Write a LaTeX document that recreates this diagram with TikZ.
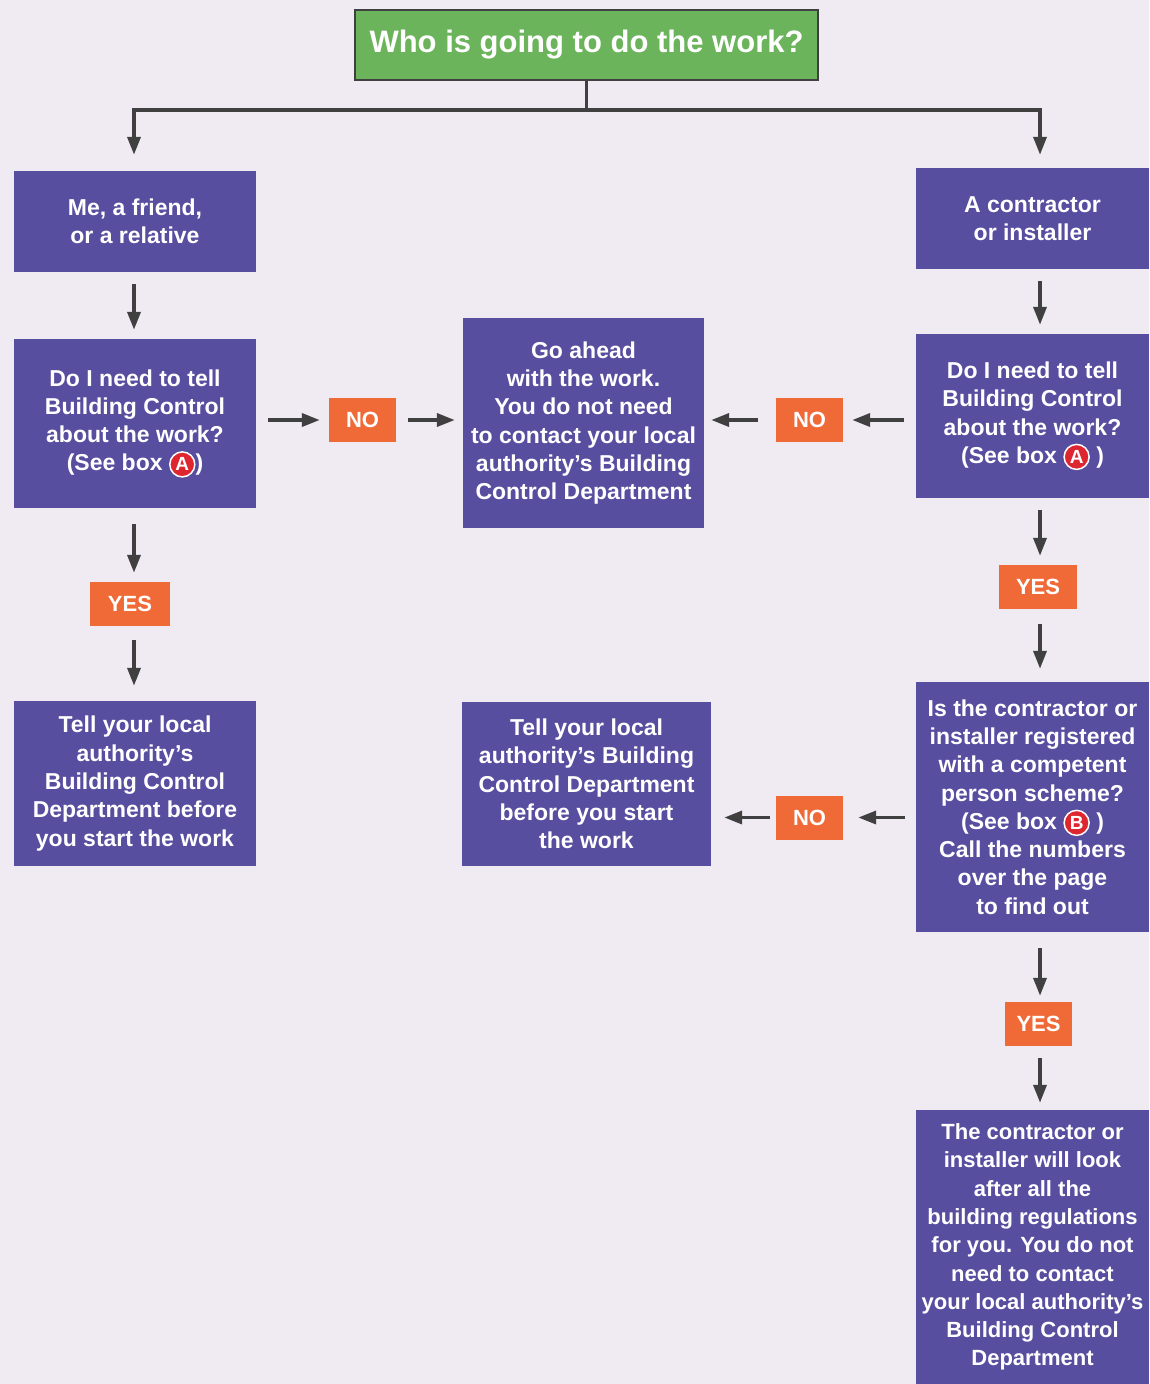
\documentclass[tikz,border=0pt]{standalone}
\usepackage{fontspec}
\setmainfont{Liberation Sans}
\usetikzlibrary{arrows.meta}

\definecolor{paper}{RGB}{240,235,242}
\definecolor{stepblue}{RGB}{88,78,160}
\definecolor{answer}{RGB}{240,106,56}
\definecolor{topgreen}{RGB}{108,180,92}
\definecolor{arrowgray}{RGB}{64,64,64}
\definecolor{letterred}{RGB}{222,38,48}

% lettre entouree (renvoi aux encadres)
\newcommand{\boxletter}[1]{\tikz[baseline=(L.base)]\node[circle,fill=letterred,draw=white,line width=1.5pt,inner sep=0pt,minimum size=25pt,text=white,font=\fontsize{19}{19}\selectfont\bfseries] (L) {#1};}

\begin{document}
\begin{tikzpicture}[x=1pt,y=-1pt,>={Triangle[length=18pt,width=13pt]},
    question/.style={fill=stepblue,text=white,align=center,inner sep=2pt,
      font=\fontsize{23}{28.3}\selectfont\bfseries},
    answerbox/.style={fill=answer,text=white,minimum height=44pt,inner sep=0pt,
      font=\fontsize{22}{22}\selectfont\bfseries},
    flow/.style={->,draw=arrowgray,line width=3.5pt,shorten <=12pt,shorten >=9pt}]
    % Fond
    \fill[paper] (0,0) rectangle (1149,1384);

    % Question de depart
    \node[fill=topgreen,draw=arrowgray,line width=1.5pt,text=white,minimum width=463pt,minimum height=70pt,
      font=\fontsize{31}{31}\selectfont\bfseries] (who) at (586.5,45) {Who is going to do the work?};
    \coordinate (split) at (586.5,110);
    \coordinate (colR) at (1040,0);
    \coordinate (colL) at (134,0);

    % Colonne de gauche
    \node[question,minimum width=242pt,minimum height=101pt] (me) at (135,221.5) {Me, a friend,\\or a relative};
    \node[question,minimum width=242pt,minimum height=169pt] (askL) at (135,423.5)
      {Do I need to tell\\Building Control\\about the work?\\(See box \boxletter{A})};
    \node[answerbox,minimum width=80pt] (yesL) at (130,604) {YES};
    \node[question,minimum width=242pt,minimum height=165pt] (tellL) at (135,783.5)
      {Tell your local\\authority’s\\Building Control\\Department before\\you start the work};

    % Colonne du milieu
    \node[question,minimum width=241pt,minimum height=210pt] (ahead) at (583.5,423)
      {Go ahead\\with the work.\\You do not need\\to contact your local\\authority’s Building\\Control Department};
    \node[answerbox,minimum width=67pt] (noL) at (362.5,420) {NO};
    \node[answerbox,minimum width=67pt] (noR) at (809.5,420) {NO};
    \node[question,minimum width=249pt,minimum height=164pt] (tellM) at (586.5,784)
      {Tell your local\\authority’s Building\\Control Department\\before you start\\the work};
    \node[answerbox,minimum width=67pt] (noB) at (809.5,817.5) {NO};

    % Colonne de droite
    \node[question,minimum width=233pt,minimum height=101pt] (contractor) at (1032.5,218.5) {A contractor\\or installer};
    \node[question,minimum width=233pt,minimum height=164pt] (askR) at (1032.5,416)
      {Do I need to tell\\Building Control\\about the work?\\(See box \boxletter{A} )};
    \node[answerbox,minimum width=78pt] (yesR) at (1038,587) {YES};
    \node[question,minimum width=233pt,minimum height=250pt] (registered) at (1032.5,807)
      {Is the contractor or\\installer registered\\with a competent\\person scheme?\\(See box \boxletter{B} )\\Call the numbers\\over the page\\to find out};
    \node[answerbox,minimum width=67pt] (yesB) at (1038.5,1024) {YES};
    \node[question,minimum width=233pt,minimum height=274pt,font=\fontsize{22}{28.3}\selectfont\bfseries] (done) at (1032.5,1247)
      {The contractor or\\installer will look\\after all the\\building regulations\\for you. You do not\\need to contact\\your local authority’s\\Building Control\\Department};

    % Fleches
    \draw[arrowgray,line width=3pt] (who.south) -- (split);
    \draw[flow,shorten <=0pt,shorten >=16pt] (split) -| (me.north -| colL);
    \draw[flow,shorten <=0pt,shorten >=13pt] (split) -| (contractor.north -| colR);

    \draw[flow] (me.south -| colL) -- (askL.north -| colL);
    \draw[flow,shorten <=16pt] (askL.south -| colL) -- (yesL.north -| colL);
    \draw[flow,shorten <=14pt,shorten >=15pt] (yesL.south -| colL) -- (tellL.north -| colL);
    \draw[flow] (askL.east |- noL) -- (noL);
    \draw[flow,shorten >=8pt] (noL) -- (ahead.west |- noL);

    \draw[flow] (askR.west |- noR) -- (noR);
    \draw[flow,shorten <=18pt,shorten >=7pt] (noR) -- (ahead.east |- noR);

    \draw[flow] (contractor.south -| colR) -- (askR.north -| colR);
    \draw[flow] (askR.south -| colR) -- (yesR.north -| colR);
    \draw[flow,shorten <=15pt,shorten >=13pt] (yesR.south -| colR) -- (registered.north -| colR);
    \draw[flow,shorten <=16pt,shorten >=6pt] (registered.south -| colR) -- (yesB.north -| colR);
    \draw[flow,shorten >=7pt] (yesB.south -| colR) -- (done.north -| colR);

    \draw[flow,shorten <=11pt,shorten >=15pt] (registered.west |- noB) -- (noB);
    \draw[flow,shorten <=6pt,shorten >=13pt] (noB) -- (tellM.east |- noB);
\end{tikzpicture}
\end{document}
